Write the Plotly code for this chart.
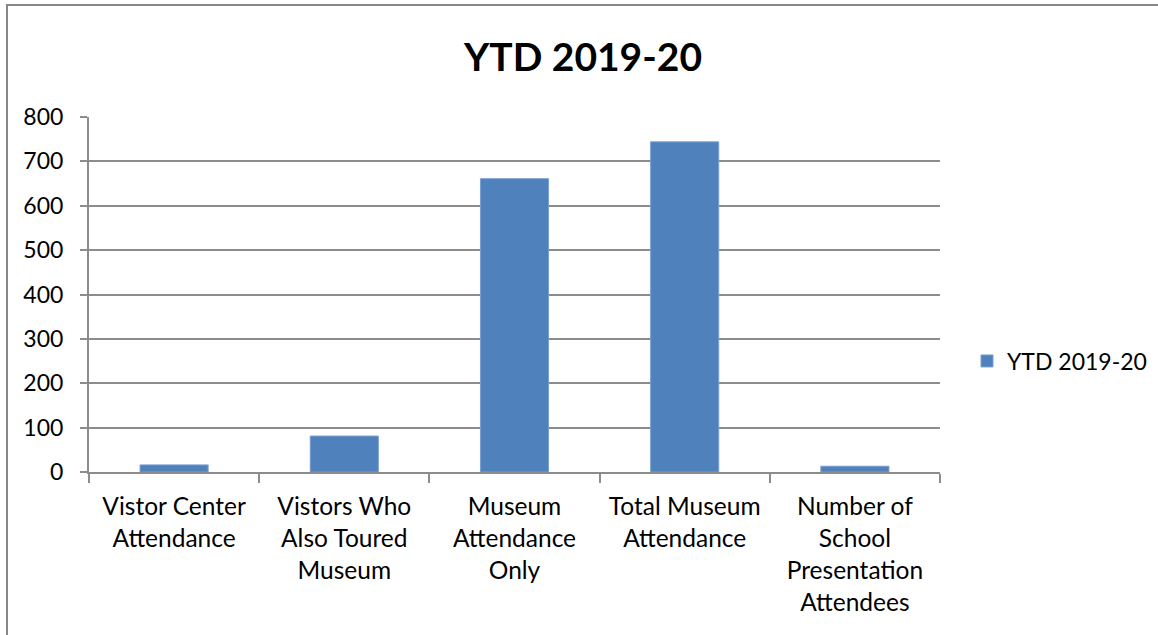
import plotly.graph_objects as go

# Year-to-date attendance figures
categories = [
    "Vistor Center<br>Attendance",
    "Vistors Who<br>Also Toured<br>Museum",
    "Museum<br>Attendance<br>Only",
    "Total Museum<br>Attendance",
    "Number of<br>School<br>Presentation<br>Attendees",
]
values = [16, 81, 661, 744, 13]
series_name = "YTD 2019-20"
y_ticks = [0, 100, 200, 300, 400, 500, 600, 700, 800]

W, H = 1158, 635
L, R, T, B = 89, 218, 117, 163
pw, ph = W - L - R, H - T - B

def px_x(p):
    return (p - L) / pw

def px_y(p):
    return (H - B - p) / ph

font_family = "Lato, 'Open Sans', sans-serif"
grid = "#8c8c8c"

fig = go.Figure()
fig.add_trace(go.Bar(
    x=categories,
    y=values,
    name=series_name,
    marker=dict(color="#4f81bd", line=dict(color="#7a9fd0", width=1)),
    width=0.4,
    showlegend=True,
))

fig.update_layout(
    width=W,
    height=H,
    margin=dict(l=L, r=R, t=T, b=B, pad=0, autoexpand=False),
    paper_bgcolor="white",
    plot_bgcolor="white",
    font=dict(family=font_family, size=23, color="#000000"),
    title=dict(
        text="<b>YTD 2019-20</b>",
        xref="container",
        x=583 / W,
        xanchor="center",
        y=1 - 57 / H,
        yanchor="middle",
        font=dict(family=font_family, size=39, color="#000000"),
    ),
    showlegend=True,
    legend=dict(
        x=px_x(967),
        xanchor="left",
        y=px_y(361),
        yanchor="middle",
        font=dict(family=font_family, size=23),
        bgcolor="rgba(0,0,0,0)",
    ),
    bargap=0.6,
)

fig.update_xaxes(
    type="category",
    showline=True,
    linecolor=grid,
    linewidth=2,
    ticks="outside",
    tickson="boundaries",
    ticklen=9,
    tickwidth=2,
    tickcolor=grid,
    showgrid=False,
    tickangle=0,
    ticklabelstandoff=12,
    tickfont=dict(family=font_family, size=24.5),
)

fig.update_yaxes(
    range=[0, 800],
    tickvals=y_ticks,
    showline=True,
    linecolor=grid,
    linewidth=2,
    ticks="outside",
    ticklen=7,
    tickwidth=2,
    tickcolor=grid,
    showgrid=True,
    gridcolor=grid,
    gridwidth=2,
    zeroline=False,
    ticklabelstandoff=12,
    tickfont=dict(family=font_family, size=23),
)

# Chart frame (left and top edges are inside the page)
fig.add_shape(
    type="rect",
    xref="paper", yref="paper",
    x0=px_x(7), x1=px_x(1170),
    y0=px_y(650), y1=px_y(5),
    line=dict(color="#878787", width=2),
    fillcolor="rgba(0,0,0,0)",
    layer="below",
)

fig.write_html("out.html")
